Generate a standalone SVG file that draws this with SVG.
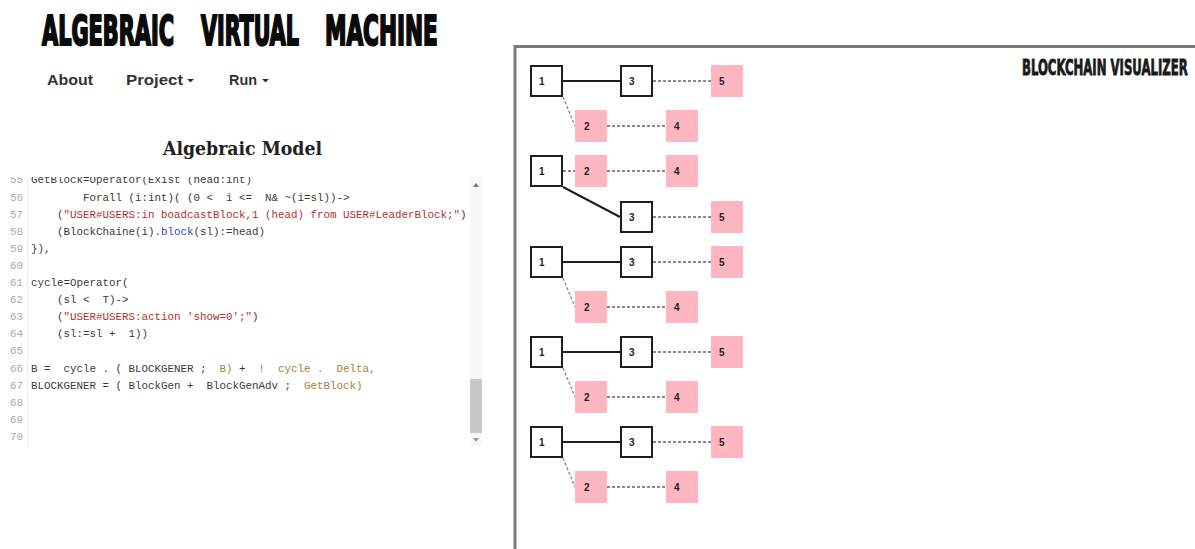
<svg xmlns="http://www.w3.org/2000/svg" width="1195" height="549" viewBox="0 0 1195 549">
<style>
.title{font-family:'DejaVu Sans Condensed','DejaVu Sans',sans-serif;font-stretch:condensed;font-weight:bold;fill:#0a0a0a;stroke:#0a0a0a;stroke-width:2.2}
.menu{font-family:'Liberation Sans',Arial,sans-serif;font-weight:bold;font-size:15px;fill:#333}
.code{font-family:'Liberation Mono','DejaVu Sans Mono',monospace;font-size:10.83px;fill:#3a3a3a;white-space:pre}
.ln{font-family:'Liberation Mono','DejaVu Sans Mono',monospace;font-size:10.83px;fill:#aaa;text-anchor:end}
.str{fill:#b03030}
.kw{fill:#2f3fc0}
.tan{fill:#a87d3a}
.wbox{fill:#fff;stroke:#1e1e1e;stroke-width:2}
.pbox{fill:#ffb6c1}
.lbl{font-family:'Liberation Sans',Arial,sans-serif;font-weight:bold;font-size:10px;fill:#222}
.solid{stroke:#1e1e1e;stroke-width:2;fill:none}
.dash{stroke:#8a8a8a;stroke-width:2;stroke-dasharray:3 2;fill:none}
.dashd{stroke:#8a8a8a;stroke-width:1.3;stroke-dasharray:3 2;fill:none}
</style>
<defs>
<clipPath id="codeclip"><rect x="0" y="177" width="470" height="272"/></clipPath>
</defs>
<rect width="1195" height="549" fill="#fff"/>

<g id="header">
<text class="title" transform="scale(0.55,1)" y="45" font-size="41"><tspan x="76.4" textLength="240" lengthAdjust="spacingAndGlyphs">ALGEBRAIC</tspan><tspan x="365.5" textLength="178" lengthAdjust="spacingAndGlyphs">VIRTUAL</tspan><tspan x="590.9" textLength="205" lengthAdjust="spacingAndGlyphs">MACHINE</tspan></text>
</g>

<g id="menu">
<text class="menu" x="47" y="85" textLength="46" lengthAdjust="spacingAndGlyphs">About</text>
<text class="menu" x="126" y="85" textLength="57" lengthAdjust="spacingAndGlyphs">Project</text>
<polygon points="187,79 194,79 190.5,82.5" fill="#333"/>
<text class="menu" x="229" y="85" textLength="28" lengthAdjust="spacingAndGlyphs">Run</text>
<polygon points="262,79 269,79 265.5,82.5" fill="#333"/>
</g>

<g id="model-title">
<text x="163" y="155" font-family="'DejaVu Serif','Liberation Serif',serif" font-weight="bold" font-size="18" fill="#222" textLength="159" lengthAdjust="spacingAndGlyphs">Algebraic Model</text>
</g>

<g id="editor">
<line x1="27.5" y1="177" x2="27.5" y2="449" stroke="#eee" stroke-width="1"/>
<g clip-path="url(#codeclip)">
<text class="ln" x="23" y="183.4">55</text>
<text class="ln" x="23" y="200.5">56</text>
<text class="ln" x="23" y="217.6">57</text>
<text class="ln" x="23" y="234.7">58</text>
<text class="ln" x="23" y="251.8">59</text>
<text class="ln" x="23" y="268.9">60</text>
<text class="ln" x="23" y="286">61</text>
<text class="ln" x="23" y="303.1">62</text>
<text class="ln" x="23" y="320.2">63</text>
<text class="ln" x="23" y="337.3">64</text>
<text class="ln" x="23" y="354.4">65</text>
<text class="ln" x="23" y="371.5">66</text>
<text class="ln" x="23" y="388.6">67</text>
<text class="ln" x="23" y="405.7">68</text>
<text class="ln" x="23" y="422.8">69</text>
<text class="ln" x="23" y="439.9">70</text>
<text class="code" x="31" y="183.4" xml:space="preserve">GetBlock=Operator(Exist (head:int)</text>
<text class="code" x="31" y="200.5" xml:space="preserve">        Forall (i:int)( (0 &lt;  i &lt;=  N&amp; ~(i=sl))-&gt;</text>
<text class="code" x="31" y="217.6" xml:space="preserve">    (<tspan class="str">"USER#USERS:in boadcastBlock,1 (head) from USER#LeaderBlock;"</tspan>)</text>
<text class="code" x="31" y="234.7" xml:space="preserve">    (BlockChaine(i).<tspan class="kw">block</tspan>(sl):=head)</text>
<text class="code" x="31" y="251.8" xml:space="preserve">}),</text>
<text class="code" x="31" y="286" xml:space="preserve">cycle=Operator(</text>
<text class="code" x="31" y="303.1" xml:space="preserve">    (sl &lt;  T)-&gt;</text>
<text class="code" x="31" y="320.2" xml:space="preserve">    (<tspan class="str">"USER#USERS:action 'show=0';"</tspan>)</text>
<text class="code" x="31" y="337.3" xml:space="preserve">    (sl:=sl +  1))</text>
<text class="code" x="31" y="371.5" xml:space="preserve">B =  cycle . ( BLOCKGENER ;  <tspan class="tan">B)</tspan> +  <tspan class="tan">!  cycle .  Delta,</tspan></text>
<text class="code" x="31" y="388.6" xml:space="preserve">BLOCKGENER = ( BlockGen +  BlockGenAdv ;  <tspan class="tan">GetBlock)</tspan></text>
</g>
<rect x="470" y="177" width="12" height="269" fill="#f7f7f7"/>
<polygon points="473,187 479,187 476,183" fill="#777"/>
<rect x="470" y="379" width="12" height="54" fill="#c8c8c8"/>
<polygon points="473,438 479,438 476,442" fill="#999"/>
</g>

<g id="visualizer-panel">
<path d="M515,549 V46.5 H1195" fill="none" stroke="#7a7a7a" stroke-width="3"/>
<text transform="scale(0.65,1)" x="1572.3" y="75" font-family="'DejaVu Sans Condensed','DejaVu Sans',sans-serif" font-stretch="condensed" font-weight="bold" font-size="20.5" fill="#1a1a1a" stroke="#1a1a1a" stroke-width="0.8" textLength="255" lengthAdjust="spacingAndGlyphs">BLOCKCHAIN VISUALIZER</text>
</g>

<g id="connectors">
<line class="solid" x1="563" y1="81" x2="620" y2="81"/>
<line class="dash" x1="653" y1="81" x2="711" y2="81"/>
<line class="dashd" x1="563" y1="97" x2="575" y2="126"/>
<line class="dash" x1="607" y1="126" x2="666" y2="126"/>
<line class="dash" x1="563" y1="171" x2="575" y2="171"/>
<line class="dash" x1="607" y1="171" x2="666" y2="171"/>
<line class="solid" x1="563" y1="187" x2="620" y2="217"/>
<line class="dash" x1="653" y1="217" x2="711" y2="217"/>
<line class="solid" x1="563" y1="262" x2="620" y2="262"/>
<line class="dash" x1="653" y1="262" x2="711" y2="262"/>
<line class="dashd" x1="563" y1="278" x2="575" y2="307"/>
<line class="dash" x1="607" y1="307" x2="666" y2="307"/>
<line class="solid" x1="563" y1="352" x2="620" y2="352"/>
<line class="dash" x1="653" y1="352" x2="711" y2="352"/>
<line class="dashd" x1="563" y1="368" x2="575" y2="397"/>
<line class="dash" x1="607" y1="397" x2="666" y2="397"/>
<line class="solid" x1="563" y1="442" x2="620" y2="442"/>
<line class="dash" x1="653" y1="442" x2="711" y2="442"/>
<line class="dashd" x1="563" y1="458" x2="575" y2="487"/>
<line class="dash" x1="607" y1="487" x2="666" y2="487"/>
</g>

<g id="g1-n1"><rect class="wbox" x="531" y="66" width="31" height="30"/><text class="lbl" x="539" y="84.5">1</text></g>
<g id="g1-n3"><rect class="wbox" x="621" y="66" width="31" height="30"/><text class="lbl" x="629" y="84.5">3</text></g>
<g id="g1-n5"><rect class="pbox" x="711" y="65" width="32" height="32"/><text class="lbl" x="719" y="84.5">5</text></g>
<g id="g1-n2"><rect class="pbox" x="575" y="110" width="32" height="32"/><text class="lbl" x="584" y="129.5">2</text></g>
<g id="g1-n4"><rect class="pbox" x="666" y="110" width="32" height="32"/><text class="lbl" x="674" y="129.5">4</text></g>

<g id="g2-n1"><rect class="wbox" x="531" y="156" width="31" height="30"/><text class="lbl" x="539" y="174.5">1</text></g>
<g id="g2-n2"><rect class="pbox" x="575" y="155" width="32" height="32"/><text class="lbl" x="584" y="174.5">2</text></g>
<g id="g2-n4"><rect class="pbox" x="666" y="155" width="32" height="32"/><text class="lbl" x="674" y="174.5">4</text></g>
<g id="g2-n3"><rect class="wbox" x="621" y="202" width="31" height="30"/><text class="lbl" x="629" y="220.5">3</text></g>
<g id="g2-n5"><rect class="pbox" x="711" y="201" width="32" height="32"/><text class="lbl" x="719" y="220.5">5</text></g>

<g id="g3-n1"><rect class="wbox" x="531" y="247" width="31" height="30"/><text class="lbl" x="539" y="265.5">1</text></g>
<g id="g3-n3"><rect class="wbox" x="621" y="247" width="31" height="30"/><text class="lbl" x="629" y="265.5">3</text></g>
<g id="g3-n5"><rect class="pbox" x="711" y="246" width="32" height="32"/><text class="lbl" x="719" y="265.5">5</text></g>
<g id="g3-n2"><rect class="pbox" x="575" y="291" width="32" height="32"/><text class="lbl" x="584" y="310.5">2</text></g>
<g id="g3-n4"><rect class="pbox" x="666" y="291" width="32" height="32"/><text class="lbl" x="674" y="310.5">4</text></g>

<g id="g4-n1"><rect class="wbox" x="531" y="337" width="31" height="30"/><text class="lbl" x="539" y="355.5">1</text></g>
<g id="g4-n3"><rect class="wbox" x="621" y="337" width="31" height="30"/><text class="lbl" x="629" y="355.5">3</text></g>
<g id="g4-n5"><rect class="pbox" x="711" y="336" width="32" height="32"/><text class="lbl" x="719" y="355.5">5</text></g>
<g id="g4-n2"><rect class="pbox" x="575" y="381" width="32" height="32"/><text class="lbl" x="584" y="400.5">2</text></g>
<g id="g4-n4"><rect class="pbox" x="666" y="381" width="32" height="32"/><text class="lbl" x="674" y="400.5">4</text></g>

<g id="g5-n1"><rect class="wbox" x="531" y="427" width="31" height="30"/><text class="lbl" x="539" y="445.5">1</text></g>
<g id="g5-n3"><rect class="wbox" x="621" y="427" width="31" height="30"/><text class="lbl" x="629" y="445.5">3</text></g>
<g id="g5-n5"><rect class="pbox" x="711" y="426" width="32" height="32"/><text class="lbl" x="719" y="445.5">5</text></g>
<g id="g5-n2"><rect class="pbox" x="575" y="471" width="32" height="32"/><text class="lbl" x="584" y="490.5">2</text></g>
<g id="g5-n4"><rect class="pbox" x="666" y="471" width="32" height="32"/><text class="lbl" x="674" y="490.5">4</text></g>
</svg>
